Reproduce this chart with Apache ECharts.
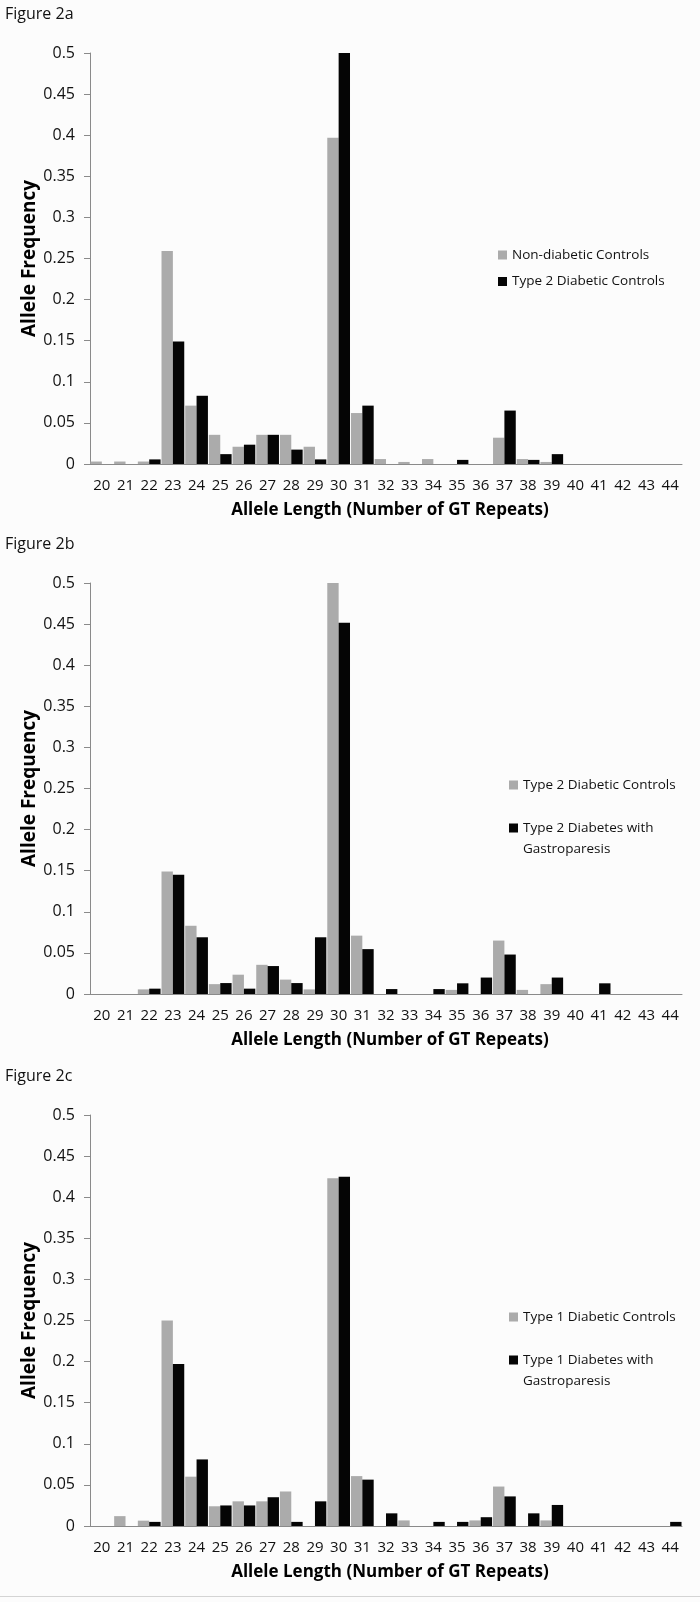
<!DOCTYPE html>
<html>
<head>
<meta charset="utf-8">
<title>Figure 2</title>
<script src="https://cdn.jsdelivr.net/npm/echarts@6/dist/echarts.min.js"></script>
<style>
    body { margin: 0; background: #fcfcfc; }
    .panel { position: absolute; left: 0; width: 700px; }
    #rule { position: absolute; left: 0; top: 1596px; width: 700px; height: 1px; background: #d4d4d4; }
</style>
</head>
<body>
<div id="fig2a" class="panel" style="top:0;height:530px"></div>
<div id="fig2b" class="panel" style="top:530px;height:532px"></div>
<div id="fig2c" class="panel" style="top:1062px;height:534px"></div>
<div id="rule"></div>
<script>
// allele lengths (number of GT repeats)
var alleles = ['20','21','22','23','24','25','26','27','28','29','30','31','32',
    '33','34','35','36','37','38','39','40','41','42','43','44'];

// Figure 2a
var nonDiabetic = [0.003,0.003,0.003,0.259,0.071,0.0355,0.021,0.0355,0.0355,0.021,0.397,0.062,0.006,
    0.0025,0.006,0,0,0.032,0.006,0.0025,0,0,0,0,0];
var type2Controls = [0,0,0.0056,0.149,0.083,0.012,0.0235,0.0355,0.0175,0.0056,0.5,0.071,0,
    0,0,0.005,0,0.065,0.005,0.012,0,0,0,0,0];

// Figure 2b
var type2Gastro = [0,0,0.0065,0.145,0.069,0.0133,0.0065,0.034,0.0133,0.069,0.4515,0.0546,0.006,
    0,0.006,0.013,0.02,0.048,0,0.02,0,0.013,0,0,0];

// Figure 2c
var type1Controls = [0,0.012,0.0065,0.25,0.06,0.024,0.03,0.03,0.042,0,0.423,0.0607,0,
    0.0068,0,0,0.0068,0.048,0,0.0068,0,0,0,0,0];
var type1Gastro = [0,0,0.005,0.197,0.081,0.025,0.025,0.035,0.005,0.03,0.425,0.0564,0.0154,
    0,0.005,0.005,0.0107,0.036,0.0154,0.0256,0,0,0,0,0.005];

var yTicks = [0,0.05,0.1,0.15,0.2,0.25,0.3,0.35,0.4,0.45,0.5];

var GRAY = '#ababab', BLACK = '#050505', AXIS = '#8a8a8a';
var FONT = '"Open Sans", sans-serif';

function makeLegend(name, color, left, top) {
    return {
        data: [{name: name, itemStyle: {color: color}}],
        left: left,
        top: top,
        padding: 0,
        icon: 'rect',
        itemWidth: 9,
        itemHeight: 9,
        itemGap: 0,
        selectedMode: false,
        textStyle: {fontFamily: FONT, fontSize: 13.5, color: '#111', lineHeight: 21},
        formatter: function (n) {
            // long names wrap, the square stays beside the first line
            if (n.indexOf(' with ') > 0) {
                return '\n' + n.replace(' with ', ' with\n');
            }
            return n;
        }
    };
}

function makeChart(id, label, grayName, grayVals, blackName, blackVals, legendPos) {
    var dom = document.getElementById(id);
    var chart = echarts.init(dom);
    var option = {
        animation: false,
        textStyle: {fontFamily: FONT},
        title: {
            text: label,
            left: 0,
            top: 1,
            textStyle: {fontFamily: FONT, fontSize: 16, fontWeight: 'normal', color: '#111'}
        },
        legend: [
            makeLegend(grayName, GRAY, legendPos[0], legendPos[1]),
            makeLegend(blackName, BLACK, legendPos[0], legendPos[2])
        ],
        grid: {left: 90, top: 53, width: 592, height: 411},
        xAxis: {
            type: 'category',
            data: alleles,
            name: 'Allele Length (Number of GT Repeats)',
            nameLocation: 'middle',
            nameGap: 38,
            nameTextStyle: {fontFamily: FONT, fontSize: 17, fontWeight: 'bold', color: '#000',
                padding: [0, 0, 0, 8]},
            axisLine: {lineStyle: {color: AXIS, width: 1}},
            axisTick: {length: 5, lineStyle: {color: AXIS}},
            axisLabel: {interval: 0, margin: 14, fontSize: 15, color: '#111'}
        },
        yAxis: {
            type: 'value',
            min: 0,
            max: 0.5,
            interval: 0.05,
            name: 'Allele Frequency',
            nameLocation: 'middle',
            nameGap: 51,
            nameMoveOverlap: false,
            nameTextStyle: {fontFamily: FONT, fontSize: 19, fontWeight: 'bold', color: '#000'},
            axisLine: {show: true, lineStyle: {color: AXIS, width: 1}},
            axisTick: {show: true, length: 6, lineStyle: {color: AXIS}},
            splitLine: {show: false},
            axisLabel: {
                margin: 15, fontSize: 16, color: '#111',
                formatter: function (v) {
                    var t = yTicks.filter(function (k) { return Math.abs(k - v) < 1e-9; });
                    return t.length ? String(t[0]) : '';
                }
            }
        },
        series: [
            {
                name: grayName,
                type: 'bar',
                data: grayVals,
                barGap: '0%',
                barCategoryGap: '4%',
                itemStyle: {color: GRAY}
            },
            {
                name: blackName,
                type: 'bar',
                data: blackVals,
                itemStyle: {color: BLACK}
            }
        ]
    };
    chart.setOption(option);
    return chart;
}

makeChart('fig2a', 'Figure 2a', 'Non-diabetic Controls', nonDiabetic,
    'Type 2 Diabetic Controls', type2Controls, [498, 244.5, 271]);
makeChart('fig2b', 'Figure 2b', 'Type 2 Diabetic Controls', type2Controls,
    'Type 2 Diabetes with Gastroparesis', type2Gastro, [509, 244.5, 266.5]);
makeChart('fig2c', 'Figure 2c', 'Type 1 Diabetic Controls', type1Controls,
    'Type 1 Diabetes with Gastroparesis', type1Gastro, [509, 244.5, 266.5]);
</script>
</body>
</html>
